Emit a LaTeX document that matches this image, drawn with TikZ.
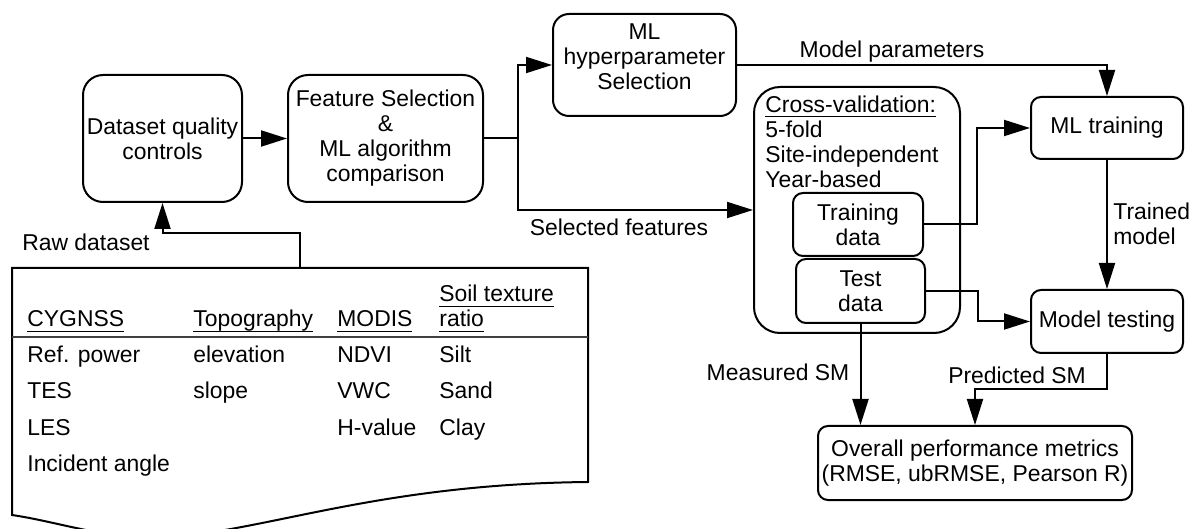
\documentclass[tikz,border=0pt]{standalone}
\usepackage{fontspec}
\setmainfont{Liberation Sans}
\usetikzlibrary{arrows.meta}
\newcommand\myul[1]{\setbox0\hbox{#1}\rlap{\rule[-2.4pt]{\wd0}{0.55pt}}\box0}
\begin{document}
\begin{tikzpicture}[x=0.5pt,y=-0.5pt,
  font=\fontsize{11.45}{12.5}\selectfont,
  box/.style={draw, line width=1pt, align=center, inner sep=0pt},
  arr/.style={line width=1pt, -{Triangle[length=13pt,width=8pt]}},
  lbl/.style={inner sep=0pt, align=left},
  dt/.style={anchor=base west, inner sep=0pt},
]
\useasboundingbox (0,0) rectangle (1195,529);
\clip (0,0) rectangle (1195,529);

% boxes
\node[box, rounded corners=10pt, minimum width=79.5pt, minimum height=63.5pt] (dqc) at (162.5,138.5) {Dataset quality\\controls};
\node[box, rounded corners=10pt, minimum width=97.5pt, minimum height=63.5pt] (fs) at (385.5,138.5) {Feature Selection\\\&\\ML algorithm\\comparison};
\node[box, rounded corners=8pt, minimum width=91.5pt, minimum height=51pt] (mlh) at (644.5,65) {};
\node[lbl, align=center] (mlhtext) at (644.5,57) {ML\\hyperparameter\\Selection};
\node[box, rounded corners=13pt, minimum width=103pt, minimum height=123pt] (cv) at (857,210) {};
\node[lbl, anchor=north west] (cvtext) at (765,95.6) {\myul{Cross-validation:}\\5-fold\\Site-independent\\Year-based};
\node[box, rounded corners=5pt, minimum width=65pt, minimum height=31.5pt] (td) at (858,224.5) {Training\\data};
\node[box, rounded corners=5pt, minimum width=64.5pt, minimum height=32pt] (testd) at (860.5,291) {Test\\data};
\node[box, rounded corners=5pt, minimum width=76pt, minimum height=31pt] (mlt) at (1107,128) {ML training};
\node[box, rounded corners=5pt, minimum width=76pt, minimum height=31.5pt] (mt) at (1107,321.5) {Model testing};
\node[box, rounded corners=5pt, minimum width=157pt, minimum height=37pt] (opm) at (975,463) {Overall performance metrics\\(RMSE, ubRMSE, Pearson R)};

% document shape
\draw[line width=1pt] (12,268) -- (588,268) -- (588,482)
  .. controls (380,484) and (270,530) .. (170,537)
  .. controls (110,541) and (60,522) .. (12,515) -- cycle;
\draw[line width=0.6pt, black!75] (12,337) -- (588,337);
\coordinate (docin) at (300,268);

% document contents
\node[dt] (h1) at (27,327) {\myul{CYGNSS}};
\node[dt] (h2) at (193,327) {\myul{Topography}};
\node[dt] (h3) at (337,327) {\myul{MODIS}};
\node[dt] (h4a) at (439,302) {\myul{Soil texture}};
\node[dt] (h4b) at (439,327) {\myul{ratio}};
\node[dt] (c11) at (27,363) {Ref. power};
\node[dt] (c12) at (27,399) {TES};
\node[dt] (c13) at (27,436) {LES};
\node[dt] (c14) at (27,472) {Incident angle};
\node[dt] (c21) at (193,363) {elevation};
\node[dt] (c22) at (193,399) {slope};
\node[dt] (c31) at (337,363) {NDVI};
\node[dt] (c32) at (337,399) {VWC};
\node[dt] (c33) at (337,436) {H-value};
\node[dt] (c41) at (439,363) {Silt};
\node[dt] (c42) at (439,399) {Sand};
\node[dt] (c43) at (439,436) {Clay};

% connectors
\coordinate (br) at (518,138.5);
\coordinate (tj) at (977,0);
\coordinate (sj) at (978,0);
\coordinate (pj) at (0,389);
\coordinate (rj) at (0,233);
\draw[arr] (dqc) -- (fs);
\draw[arr] (fs.east) -- (br) |- (mlh.west);
\draw[arr] (br) |- (cv.west);
\draw[arr] (mlh.east) -| (mlt.north);
\draw[arr] (td.east) -- (td.east -| tj) |- (mlt.west);
\draw[arr] (testd.east) -- (testd.east -| sj) |- (mt.west);
\draw[arr] (mlt) -- (mt);
\draw[arr] (testd.south) -- (testd.south |- opm.north);
\draw[arr] (mt.south) -- (mt.south |- pj) -| (opm.north);
\draw[arr] (docin) -- (docin |- rj) -| (dqc.south);

% labels
\node[lbl, anchor=base] (l1) at (892,58) {Model parameters};
\node[lbl, anchor=base] (l2) at (619,236) {Selected features};
\node[lbl, anchor=base] (l3) at (778,380) {Measured SM};
\node[lbl, anchor=base] (l4) at (1017,384) {Predicted SM};
\node[lbl, anchor=north west] (l5) at (1113,202.6) {Trained\\model};
\node[lbl, anchor=base] (l6) at (86,251) {Raw dataset};
\end{tikzpicture}
\end{document}
